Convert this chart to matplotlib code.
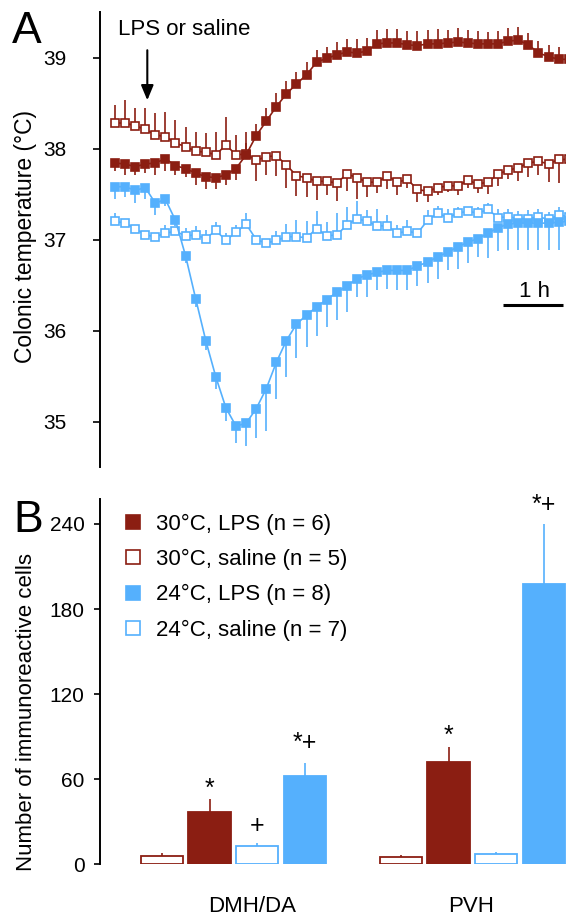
import numpy as np
import matplotlib.pyplot as plt
from matplotlib.lines import Line2D
from matplotlib.transforms import blended_transform_factory

plt.rcParams['font.family'] = ['Liberation Sans', 'DejaVu Sans']

RED = '#8b1e12'
BLUE = '#55b0fd'

# ---- panel A: colonic temperature, one reading every 10 min ----
hours = np.arange(46) / 6.0

lps30 = [37.84, 37.83, 37.80, 37.83, 37.84, 37.89, 37.81, 37.78, 37.73, 37.69,
         37.68, 37.71, 37.78, 37.93, 38.14, 38.30, 38.46, 38.60, 38.71, 38.81,
         38.95, 38.99, 39.03, 39.06, 39.05, 39.07, 39.15, 39.16, 39.16, 39.14,
         39.13, 39.15, 39.15, 39.16, 39.17, 39.16, 39.15, 39.15, 39.15, 39.18,
         39.19, 39.14, 39.05, 39.01, 38.98, 38.98]
lps30_sem = [0.09, 0.12, 0.09, 0.10, 0.13, 0.14, 0.10, 0.09, 0.13, 0.13,
             0.12, 0.11, 0.13, 0.13, 0.13, 0.14, 0.15, 0.14, 0.13, 0.14,
             0.13, 0.13, 0.14, 0.14, 0.15, 0.14, 0.15, 0.15, 0.15, 0.15,
             0.16, 0.15, 0.16, 0.14, 0.15, 0.14, 0.14, 0.13, 0.14, 0.14,
             0.14, 0.13, 0.13, 0.13, 0.13, 0.13]

sal30 = [38.28, 38.28, 38.25, 38.21, 38.15, 38.13, 38.06, 38.02, 37.97, 37.96,
         37.93, 38.04, 37.93, 37.94, 37.87, 37.91, 37.92, 37.82, 37.70, 37.68,
         37.64, 37.64, 37.62, 37.72, 37.68, 37.63, 37.63, 37.70, 37.63, 37.66,
         37.55, 37.53, 37.57, 37.59, 37.59, 37.65, 37.61, 37.63, 37.72, 37.76,
         37.79, 37.84, 37.86, 37.83, 37.88, 37.88]
sal30_sem = [0.20, 0.25, 0.19, 0.24, 0.24, 0.27, 0.25, 0.22, 0.21, 0.21,
             0.25, 0.31, 0.22, 0.24, 0.23, 0.20, 0.22, 0.25, 0.22, 0.21,
             0.21, 0.15, 0.20, 0.19, 0.24, 0.16, 0.12, 0.15, 0.14, 0.09,
             0.14, 0.12, 0.08, 0.07, 0.10, 0.08, 0.10, 0.13, 0.13, 0.10,
             0.15, 0.15, 0.15, 0.20, 0.26, 0.22]

lps24 = [37.58, 37.58, 37.54, 37.57, 37.40, 37.44, 37.21, 36.82, 36.35, 35.89,
         35.49, 35.15, 34.95, 34.98, 35.14, 35.36, 35.65, 35.89, 36.07, 36.17,
         36.26, 36.34, 36.42, 36.49, 36.57, 36.61, 36.64, 36.66, 36.66, 36.66,
         36.71, 36.75, 36.81, 36.86, 36.92, 36.97, 37.01, 37.07, 37.13, 37.17,
         37.18, 37.18, 37.18, 37.18, 37.19, 37.20]
lps24_sem = [0.13, 0.11, 0.14, 0.12, 0.13, 0.07, 0.06, 0.08, 0.09, 0.10,
             0.13, 0.14, 0.19, 0.25, 0.32, 0.46, 0.40, 0.40, 0.37, 0.35,
             0.32, 0.30, 0.30, 0.29, 0.20, 0.24, 0.20, 0.20, 0.21, 0.21,
             0.22, 0.23, 0.24, 0.20, 0.24, 0.23, 0.20, 0.27, 0.26, 0.29,
             0.30, 0.30, 0.30, 0.29, 0.30, 0.29]

sal24 = [37.20, 37.18, 37.12, 37.05, 37.03, 37.07, 37.09, 37.04, 37.05, 37.01,
         37.10, 36.99, 37.08, 37.17, 37.00, 36.96, 36.99, 37.03, 37.03, 37.02,
         37.12, 37.04, 37.05, 37.16, 37.23, 37.20, 37.15, 37.15, 37.07, 37.09,
         37.07, 37.21, 37.29, 37.24, 37.29, 37.31, 37.29, 37.33, 37.24, 37.25,
         37.23, 37.23, 37.25, 37.22, 37.27, 37.25]
sal24_sem = [0.09, 0.05, 0.04, 0.03, 0.03, 0.09, 0.05, 0.09, 0.10, 0.09,
             0.09, 0.08, 0.08, 0.12, 0.03, 0.03, 0.10, 0.14, 0.18, 0.18,
             0.19, 0.15, 0.24, 0.20, 0.19, 0.12, 0.18, 0.12, 0.09, 0.12,
             0.04, 0.11, 0.08, 0.09, 0.07, 0.04, 0.07, 0.07, 0.09, 0.08,
             0.08, 0.09, 0.08, 0.08, 0.09, 0.09]

# ---- panel B: immunoreactive cell counts ----
regions = ['DMH/DA', 'PVH']
sal30_cells = [5.9, 5.4]
sal30_cells_sem = [2.3, 1.0]
lps30_cells = [36.7, 72.4]
lps30_cells_sem = [9.0, 10.5]
sal24_cells = [12.9, 7.3]
sal24_cells_sem = [2.3, 1.6]
lps24_cells = [62.3, 197.5]
lps24_cells_sem = [9.4, 42.3]
sal30_marks = ['', '']
lps30_marks = ['*', '*']
sal24_marks = ['+', '']
lps24_marks = ['*+', '*+']

legend_labels = ['30°C, LPS (n = 6)', '30°C, saline (n = 5)',
                 '24°C, LPS (n = 8)', '24°C, saline (n = 7)']


def one_sided(sem, up):
    sem = np.asarray(sem)
    up = np.asarray(up)
    return [np.where(up, 0, sem), np.where(up, sem, 0)]


W, H = 566, 917
fig = plt.figure(figsize=(W / 100, H / 100), dpi=100)

# ---------------- panel A ----------------
axA = fig.add_axes([100 / W, 450 / H, 466 / W, 455 / H])
idx = np.arange(len(hours))
series = [
    (sal24, sal24_sem, idx >= 0, BLUE, 'white'),
    (lps24, lps24_sem, idx < 0, BLUE, BLUE),
    (sal30, sal30_sem, idx < 14, RED, 'white'),
    (lps30, lps30_sem, idx >= 13, RED, RED),
]
for vals, sem, up, col, face in series:
    axA.errorbar(hours, vals, yerr=one_sided(sem, up), fmt='-s', color=col,
                 mfc=face, mec=col, ms=6, mew=1.2, lw=1.2, elinewidth=1.2,
                 capsize=0, clip_on=False)

axA.set_xlim(-0.248, 7.455)
axA.set_ylim(34.5, 39.5)
axA.set_yticks([35, 36, 37, 38, 39])
axA.set_xticks([])
for s in ['top', 'right', 'bottom']:
    axA.spines[s].set_visible(False)
axA.spines['left'].set_linewidth(1.4)
axA.tick_params(axis='y', labelsize=15, length=5, width=1.2, pad=19)
axA.set_ylabel('Colonic temperature (°C)', fontsize=16.5)
axA.yaxis.set_label_coords(-0.135, 0.507)

axA.annotate('', xy=(0.534, 38.53), xytext=(0.534, 39.08),
             arrowprops=dict(arrowstyle='-|>,head_length=0.6,head_width=0.25',
                             mutation_scale=15, color='black', lw=1.5,
                             shrinkA=0, shrinkB=0),
             annotation_clip=False)
axA.text(1.14, 39.245, 'LPS or saline', fontsize=16, ha='center',
         va='baseline', clip_on=False)

axA.plot([6.418, 7.41], [36.28, 36.28], color='black', lw=2.2,
         solid_capstyle='butt', clip_on=False)
axA.text(6.94, 36.37, '1 h', fontsize=16, ha='center', va='baseline')

fig.text(12 / W, 1 - 43.3 / H, 'A', fontsize=32, ha='left', va='baseline')

# ---------------- panel B ----------------
axB = fig.add_axes([100 / W, 52.7 / H, 466 / W, 365.3 / H])
width = 0.88
region_offset = np.array([0, 5])
bars = [
    (sal30_cells, sal30_cells_sem, sal30_marks, RED, 'white', 0),
    (lps30_cells, lps30_cells_sem, lps30_marks, RED, RED, 1),
    (sal24_cells, sal24_cells_sem, sal24_marks, BLUE, 'white', 2),
    (lps24_cells, lps24_cells_sem, lps24_marks, BLUE, BLUE, 3),
]
mark_offset = {'*': 2.5, '+': 7, '*+': 9}
for vals, sem, marks, col, face, slot in bars:
    xs = region_offset + slot
    axB.bar(xs, vals, width=width, color=face, edgecolor=col, linewidth=1.3)
    axB.errorbar(xs, vals, yerr=[np.zeros(len(sem)), sem], fmt='none',
                 ecolor=col, elinewidth=1.2, capsize=0)
    for x, v, s, m in zip(xs, vals, sem, marks):
        if m:
            axB.annotate(m, xy=(x, v + s), xytext=(0, mark_offset[m]),
                         textcoords='offset points', ha='center',
                         va='baseline', fontsize=18)

axB.set_xlim(-1.291, 8.458)
axB.set_ylim(0, 257.6)
axB.set_yticks([0, 60, 120, 180, 240])
axB.set_xticks([])
for s in ['top', 'right', 'bottom']:
    axB.spines[s].set_visible(False)
axB.spines['left'].set_linewidth(1.4)
axB.tick_params(axis='y', labelsize=15, length=4, width=1.2, pad=7)
axB.set_ylabel('Number of immunoreactive cells', fontsize=16)
axB.yaxis.set_label_coords(-0.135, 0.418)

trans = blended_transform_factory(axB.transData, axB.transAxes)
for x, name in zip([1.89, 6.48], regions):
    axB.text(x, -0.1306, name, transform=trans, fontsize=16, ha='center',
             va='baseline')

handles = [
    Line2D([], [], ls='none', marker='s', ms=9.6, mfc=RED, mec=RED, mew=1.2),
    Line2D([], [], ls='none', marker='s', ms=9.6, mfc='white', mec=RED, mew=1.2),
    Line2D([], [], ls='none', marker='s', ms=9.6, mfc=BLUE, mec=BLUE, mew=1.2),
    Line2D([], [], ls='none', marker='s', ms=9.6, mfc='white', mec=BLUE, mew=1.2),
]
fig.legend(handles, legend_labels, loc='upper left',
           bbox_to_anchor=(122 / W, 1 - 513.5 / H), frameon=False,
           fontsize=16, handlelength=1.0, handletextpad=0.55,
           labelspacing=0.64, borderpad=0, borderaxespad=0)

fig.text(13 / W, 1 - 532 / H, 'B', fontsize=32, ha='left', va='baseline')

fig.savefig('out.png', dpi=100)
